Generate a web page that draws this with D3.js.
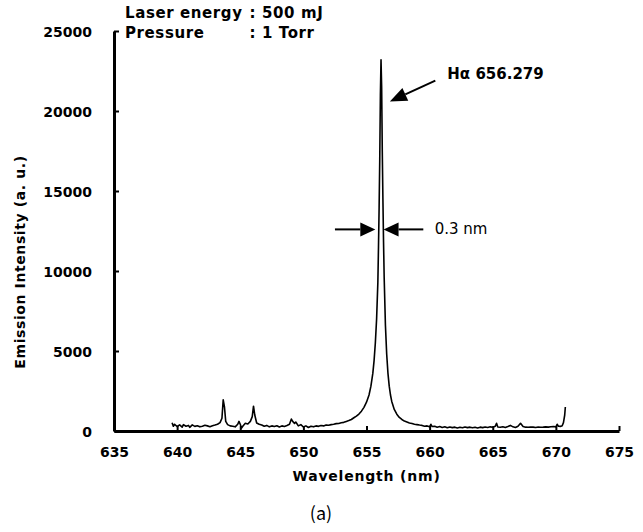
<!DOCTYPE html>
<html>
<head>
<meta charset="utf-8">
<script src="https://cdnjs.cloudflare.com/ajax/libs/d3/7.8.5/d3.min.js"></script>
<style>
  body { margin: 0; background: #fff; }
  svg { display: block; }
  text { font-family: "DejaVu Sans", sans-serif; fill: #000; }
</style>
</head>
<body>
<svg id="chart" width="643" height="532"></svg>
<script>
// spectrum: [wavelength nm, intensity a.u.]
const spectrum = [
  [639.6, 520], [639.7, 300], [639.8, 420], [640.0, 280], [640.2, 380], [640.4, 240],
  [640.5, 400], [640.7, 300], [640.9, 350], [641.0, 230], [641.2, 380], [641.4, 290],
  [641.6, 330], [641.8, 260], [642.0, 300], [642.2, 360], [642.4, 320], [642.6, 270],
  [642.8, 330], [643.0, 370], [643.2, 420], [643.4, 520], [643.55, 800], [643.65, 1950],
  [643.75, 1500], [643.85, 600], [644.0, 400], [644.2, 320], [644.4, 300], [644.6, 260],
  [644.8, 420], [644.9, 600], [645.0, 420], [645.1, 180], [645.2, 300], [645.4, 480],
  [645.6, 440], [645.8, 600], [645.95, 900], [646.05, 1550], [646.15, 1000], [646.3, 500],
  [646.5, 420], [646.7, 380], [646.9, 300], [647.1, 350], [647.3, 260], [647.5, 320],
  [647.7, 280], [647.9, 330], [648.1, 250], [648.3, 320], [648.5, 280], [648.7, 340],
  [648.9, 420], [649.05, 750], [649.15, 600], [649.3, 480], [649.4, 560], [649.6, 320],
  [649.8, 400], [650.0, 250], [650.2, 320], [650.4, 220], [650.6, 300], [650.8, 260],
  [651.0, 320], [651.2, 290], [651.4, 340], [651.6, 320], [651.8, 380], [652.0, 360],
  [652.2, 400], [652.4, 420], [652.6, 460], [652.8, 470], [653.0, 520], [653.2, 540],
  [653.4, 600], [653.6, 650], [653.8, 720], [654.0, 830], [654.2, 930], [654.4, 1060],
  [654.6, 1240], [654.8, 1480], [655.0, 1800], [655.2, 2250], [655.35, 2800], [655.5, 3600],
  [655.6, 4400], [655.7, 5500], [655.8, 7000], [655.9, 9300], [655.95, 11500], [656.0, 14000],
  [656.05, 17000], [656.1, 21000], [656.15, 23200], [656.2, 21500], [656.25, 17500], [656.3, 14500],
  [656.35, 11800], [656.4, 9600], [656.5, 6600], [656.6, 4800], [656.7, 3600], [656.8, 2800],
  [656.9, 2250], [657.0, 1850], [657.2, 1350], [657.4, 1050], [657.6, 850], [657.8, 720],
  [658.0, 620], [658.2, 560], [658.4, 500], [658.6, 470], [658.8, 420], [659.0, 400],
  [659.2, 370], [659.4, 350], [659.6, 300], [659.8, 320], [660.0, 260], [660.1, 420],
  [660.2, 280], [660.4, 300], [660.6, 240], [660.8, 280], [661.0, 220], [661.2, 260],
  [661.4, 200], [661.6, 250], [661.8, 210], [662.0, 240], [662.2, 190], [662.4, 230],
  [662.6, 200], [662.8, 250], [663.0, 210], [663.2, 240], [663.4, 200], [663.6, 230],
  [663.8, 190], [664.0, 240], [664.2, 210], [664.4, 250], [664.6, 220], [664.8, 260],
  [665.0, 230], [665.2, 300], [665.3, 480], [665.4, 250], [665.6, 230], [665.8, 270],
  [666.0, 220], [666.2, 280], [666.4, 350], [666.6, 260], [666.8, 220], [667.0, 300],
  [667.2, 480], [667.4, 280], [667.6, 240], [667.8, 230], [668.0, 250], [668.2, 240],
  [668.4, 220], [668.6, 250], [668.8, 230], [669.0, 240], [669.2, 260], [669.4, 240],
  [669.6, 270], [669.8, 280], [670.0, 260], [670.1, 420], [670.2, 300], [670.4, 290],
  [670.5, 330], [670.6, 520], [670.7, 1000], [670.75, 1500]
];

const xTicks = [635, 640, 645, 650, 655, 660, 665, 670, 675];
const yTicks = [0, 5000, 10000, 15000, 20000, 25000];
const infoLabels = ["Laser energy", "Pressure"];
const infoValues = [": 500 mJ", ": 1 Torr"];
const peakLabel = "H\u03b1 656.279";
const widthLabel = "0.3 nm";

const svg = d3.select('#chart');
const plotLeft = 114, plotRight = 619, plotTop = 31, plotBottom = 431;

const x = d3.scaleLinear().domain([635, 675]).range([plotLeft, plotRight]);
const y = d3.scaleLinear().domain([0, 25000]).range([plotBottom, plotTop]);

// axes with inward ticks
const xAxis = svg.append("g")
    .attr("transform", `translate(0,${plotBottom})`)
    .call(d3.axisBottom(x).tickValues(xTicks).tickFormat(d3.format("d"))
        .tickSizeInner(-5).tickSizeOuter(0).tickPadding(16));
const yAxis = svg.append("g")
    .attr("transform", `translate(${plotLeft},0)`)
    .call(d3.axisLeft(y).tickValues(yTicks).tickFormat(d3.format("d"))
        .tickSizeInner(-5).tickSizeOuter(0).tickPadding(22));

[xAxis, yAxis].forEach(function(ax) {
    ax.select(".domain").attr("stroke", "#000").attr("stroke-width", 3);
    ax.selectAll(".tick line").attr("stroke", "#000").attr("stroke-width", 2);
    ax.selectAll(".tick text")
        .attr("font-family", "DejaVu Sans")
        .attr("font-weight", "bold")
        .attr("font-size", 14)
        .attr("fill", "#000");
});
yAxis.selectAll(".tick text").attr("dy", "0.36em");

// spectrum line
const line = d3.line().x(d => x(d[0])).y(d => y(d[1]));
svg.append("path")
    .datum(spectrum)
    .attr("fill", "none")
    .attr("stroke", "#000")
    .attr("stroke-width", 1.6)
    .attr("stroke-linejoin", "round")
    .attr("d", line);

// axis titles
svg.append("text")
    .attr("x", (plotLeft + plotRight) / 2)
    .attr("y", 481)
    .attr("text-anchor", "middle")
    .attr("font-weight", "bold")
    .attr("font-size", 14)
    .attr("letter-spacing", 0.8)
    .text("Wavelength (nm)");

svg.append("text")
    .attr("transform", "translate(25,262) rotate(-90)")
    .attr("text-anchor", "middle")
    .attr("font-weight", "bold")
    .attr("font-size", 14)
    .attr("letter-spacing", 0.6)
    .text("Emission Intensity (a. u.)");

svg.append("text")
    .attr("x", 321)
    .attr("y", 520)
    .attr("text-anchor", "middle")
    .attr("font-size", 18)
    .style("font-family", "'Noto Sans CJK JP', sans-serif")
    .text("(a)");

// conditions in the top-left corner, colons lined up
const first = svg.append("text")
    .attr("x", 125)
    .attr("y", 18)
    .attr("font-weight", "bold")
    .attr("font-size", 15)
    .attr("letter-spacing", 0.6)
    .text(infoLabels[0]);
const colonX = 125 + first.node().getComputedTextLength() + 7;
infoLabels.forEach(function(lab, i) {
    if (i > 0) {
        svg.append("text")
            .attr("x", 125)
            .attr("y", 18 + i * 20)
            .attr("font-weight", "bold")
            .attr("font-size", 15)
            .attr("letter-spacing", 0.6)
            .text(lab);
    }
    svg.append("text")
        .attr("x", colonX)
        .attr("y", 18 + i * 20)
        .attr("font-weight", "bold")
        .attr("font-size", 15)
        .attr("letter-spacing", 0.6)
        .attr("xml:space", "preserve")
        .text(infoValues[i]);
});

// arrow helper: shaft plus filled head at (x2,y2)
const drawArrow = function(x1, y1, x2, y2, headLen, headHalf) {
    const ang = Math.atan2(y2 - y1, x2 - x1);
    const bx = x2 - headLen * Math.cos(ang);
    const by = y2 - headLen * Math.sin(ang);
    svg.append("line")
        .attr("x1", x1).attr("y1", y1)
        .attr("x2", bx).attr("y2", by)
        .attr("stroke", "#000")
        .attr("stroke-width", 2);
    const px = -Math.sin(ang) * headHalf, py = Math.cos(ang) * headHalf;
    svg.append("path")
        .attr("d", `M${x2},${y2}L${bx + px},${by + py}L${bx - px},${by - py}Z`)
        .attr("fill", "#000");
}

// H-alpha label
drawArrow(x(660.45), y(21900), x(656.85), y(20600), 17, 7);
svg.append("text")
    .attr("x", x(661.4))
    .attr("y", 79)
    .attr("font-weight", "bold")
    .attr("font-size", 15)
    .text(peakLabel);

// FWHM marker
const fwhmY = y(12600);
drawArrow(x(652.5), fwhmY, x(655.7), fwhmY, 15, 7);
drawArrow(x(659.5), fwhmY, x(656.35), fwhmY, 15, 7);
svg.append("text")
    .attr("x", x(660.4))
    .attr("y", fwhmY + 5)
    .attr("font-size", 15)
    .text(widthLabel);
</script>
</body>
</html>
